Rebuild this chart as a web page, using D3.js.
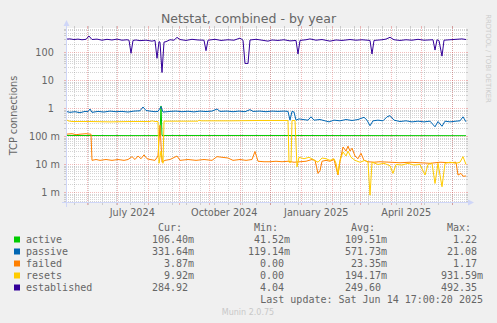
<!DOCTYPE html>
<html>
<head>
<meta charset="utf-8">
<script src="https://cdn.jsdelivr.net/npm/d3@7"></script>
<style>
  html, body { margin: 0; padding: 0; background: #F0F0F0; }
  svg { display: block; }
  text { font-family: "DejaVu Sans", sans-serif; fill: #666666; }
  .mono { font-family: "DejaVu Sans Mono", monospace; white-space: pre; }
</style>
</head>
<body>
<svg id="chart" width="497" height="323"></svg>
<script>
// ---- Data: one-year netstat window (days counted from 2024-05-10 17:00 UTC) ----
const windowStart = Date.UTC(2024, 4, 10, 17, 0, 0);
const windowDays = 400;
const biweeklyAnchor = Date.UTC(2024, 4, 19);

const seriesNames  = ["active", "passive", "failed", "resets", "established"];
const seriesColors = ["#00CC00", "#0066B3", "#FF8000", "#FFCC00", "#330099"];

// [day, connections]
const active = [
  [0, 0.108], [60, 0.107], [94, 0.107], [95, 1.22], [96, 0.108],
  [200, 0.108], [300, 0.107], [400, 0.1064]
];

const passive = [
  [0,0.78],[4,0.72],[9,0.76],[14,0.70],[19,0.78],[22,0.76],[24,0.95],[26,0.72],
  [32,0.78],[38,0.74],[44,0.80],[50,0.76],[56,0.78],[62,0.74],[68,0.80],[74,0.82],
  [77,1.12],[80,0.84],[84,0.80],[89,0.76],[92,0.78],[95,1.15],[97,0.74],[104,0.78],
  [110,0.80],[116,0.76],[122,0.79],[128,0.75],[134,0.80],[140,0.77],[146,0.80],
  [151,0.95],[154,0.78],[161,0.80],[167,0.76],[173,0.80],[179,0.76],[184,0.90],
  [187,0.78],[194,0.80],[200,0.76],[206,0.80],[212,0.78],[218,0.80],[222,0.78],
  [224,0.38],[226,0.78],[228,0.74],[230,0.38],[233,0.42],[237,0.40],[242,0.38],
  [245,0.50],[248,0.38],[254,0.40],[259,0.36],[263,0.33],[268,0.38],[274,0.36],
  [280,0.40],[286,0.37],[292,0.40],[298,0.48],[301,0.38],[304,0.24],[307,0.36],
  [312,0.38],[317,0.36],[321,0.50],[324,0.55],[328,0.38],[334,0.34],[340,0.36],
  [346,0.33],[352,0.35],[358,0.33],[364,0.35],[369,0.22],[372,0.34],[376,0.23],
  [379,0.35],[384,0.33],[390,0.35],[394,0.36],[397,0.50],[400,0.33164]
];

const failed = [
  [0,0.12],[6,0.125],[10,0.115],[14,0.12],[20,0.125],[25,0.12],[26,0.014],[30,0.015],
  [34,0.014],[40,0.015],[46,0.014],[52,0.015],[58,0.014],[62,0.015],[66,0.019],
  [69,0.015],[72,0.020],[75,0.016],[78,0.022],[81,0.016],[84,0.015],[89,0.014],
  [92,0.020],[94,0.25],[96,0.012],[99,0.014],[104,0.015],[111,0.020],[114,0.014],
  [122,0.015],[130,0.014],[138,0.015],[146,0.014],[151,0.019],[156,0.018],[162,0.017],
  [167,0.014],[174,0.015],[180,0.014],[186,0.015],[189,0.029],[192,0.013],[198,0.0125],
  [204,0.0125],[210,0.013],[216,0.0125],[222,0.013],[228,0.012],[234,0.0125],[240,0.013],
  [246,0.015],[249,0.014],[252,0.0048],[254,0.006],[256,0.013],[260,0.014],[264,0.013],
  [268,0.015],[272,0.0042],[274,0.013],[277,0.042],[280,0.030],[282,0.045],[284,0.030],
  [286,0.038],[289,0.020],[292,0.016],[295,0.025],[298,0.014],[302,0.0125],[308,0.012],
  [314,0.0125],[324,0.012],[334,0.0115],[344,0.012],[354,0.0115],[364,0.011],[374,0.012],
  [384,0.0115],[390,0.012],[392,0.0042],[395,0.0048],[397,0.0038],[400,0.00387]
];

const resets = [
  [0,0.42],[2,0.36],[6,0.34],[24,0.34],[44,0.33],[64,0.34],[84,0.34],[86,0.36],
  [89,0.34],[92,0.34],[93,0.011],[95,0.03],[97,0.011],[98,0.35],[114,0.35],[132,0.35],
  [133,0.38],[135,0.36],[164,0.36],[194,0.37],[222,0.37],[223,0.012],[225,0.012],
  [226,0.37],[229,0.37],[231,0.0082],[233,0.018],[238,0.016],[243,0.018],[247,0.015],
  [252,0.012],[256,0.017],[260,0.016],[264,0.014],[268,0.016],[270,0.011],[272,0.0045],
  [274,0.014],[277,0.028],[280,0.020],[282,0.030],[285,0.018],[289,0.014],[294,0.012],
  [299,0.014],[302,0.012],[304,0.0008],[306,0.012],[312,0.010],[318,0.011],[324,0.009],
  [327,0.0048],[330,0.010],[336,0.0095],[342,0.011],[348,0.0095],[354,0.010],[359,0.0042],
  [362,0.010],[366,0.011],[369,0.0021],[372,0.011],[376,0.0016],[379,0.011],[384,0.012],
  [390,0.011],[394,0.012],[397,0.019],[400,0.00992]
];

const established = [
  [0,295],[4,300],[8,285],[12,295],[16,280],[20,290],[23,380],[26,285],[31,295],
  [36,270],[41,290],[46,275],[51,295],[56,270],[61,280],[63,270],[65,92],[67,265],
  [70,275],[74,260],[80,270],[86,250],[89,265],[91,61],[93,240],[94,230],[96,19],
  [98,230],[100,240],[104,280],[108,270],[111,340],[114,285],[120,265],[126,290],
  [132,275],[138,270],[140,114],[142,270],[149,290],[155,265],[162,280],[168,270],
  [174,320],[177,270],[179,40],[182,40],[184,275],[190,290],[196,270],[202,250],
  [206,275],[212,265],[218,280],[224,255],[230,265],[232,87],[234,265],[240,280],
  [244,300],[250,270],[256,285],[264,250],[270,275],[276,265],[284,285],[290,270],
  [296,280],[304,265],[306,87],[308,265],[316,280],[320,295],[324,343],[328,280],
  [334,265],[340,280],[346,270],[352,290],[358,270],[367,280],[369,120],[371,280],
  [373,260],[376,73],[378,270],[384,280],[390,290],[396,300],[400,284.92]
];

const seriesData = [active, passive, failed, resets, established];

// Legend statistics
const legendHeaders = [" Cur:", " Min:", " Avg:", " Max:"];
const curValues = ["106.40m", "331.64m", "  3.87m", "  9.92m", "284.92 "];
const minValues = [" 41.52m", "119.14m", "  0.00 ", "  0.00 ", "  4.04 "];
const avgValues = ["109.51m", "571.73m", " 23.35m", "194.17m", "249.60 "];
const maxValues = ["  1.22 ", " 21.08 ", "  1.17 ", "931.59m", "492.35 "];

// Y axis ticks (log scale)
const yTickValues = [0.001, 0.01, 0.1, 1, 10, 100];
const yTickLabels = ["1 m", "10 m", "100 m", "1  ", "10  ", "100  "];

const titleText = "Netstat, combined - by year";
const yAxisTitle = "TCP connections";
const lastUpdate = "Last update: Sat Jun 14 17:00:20 2025";
const footer = "Munin 2.0.75";
const watermark = "RRDTOOL / TOBI OETIKER";

// ---- Drawing ----
const DAY = 86400000;
const svg = d3.select("#chart");
const L = 66, R = 466, T = 28, B = 203;

const x = d3.scaleUtc()
  .domain([new Date(windowStart), new Date(windowStart + windowDays * DAY)])
  .range([L, R]);
const y = d3.scaleLog().domain([4.22e-4, 735]).range([B, T]);
const dateOf = d => new Date(windowStart + d * DAY);
const px = v => Math.round(v) + 0.5;

svg.append("rect").attr("width", 497).attr("height", 323).attr("fill", "#F0F0F0");
svg.append("rect").attr("x", L).attr("y", T).attr("width", R - L).attr("height", B - T)
  .attr("fill", "#FFFFFF");

const grid = svg.append("g").attr("shape-rendering", "crispEdges");
const minorColor = "rgba(143,143,143,0.38)";
const majorColor = "rgba(222,79,79,0.38)";

// Horizontal minor grid: 2..9 within each decade
const [yMin, yMax] = y.domain();
const minorY = [];
for (let e = -4; e <= 2; e++) {
  for (let k = 2; k <= 9; k++) {
    const v = k * Math.pow(10, e);
    if (v > yMin && v < yMax) minorY.push(v);
  }
}
function hLine(v, color) {
  const yy = px(y(v));
  grid.append("line").attr("x1", L).attr("x2", R).attr("y1", yy).attr("y2", yy)
    .attr("stroke", color).attr("stroke-dasharray", "1,1");
  grid.append("line").attr("x1", L - 2).attr("x2", L).attr("y1", yy).attr("y2", yy)
    .attr("stroke", color);
  grid.append("line").attr("x1", R).attr("x2", R + 2).attr("y1", yy).attr("y2", yy)
    .attr("stroke", color);
}
function vLine(t, color) {
  const xx = px(x(t));
  grid.append("line").attr("x1", xx).attr("x2", xx).attr("y1", T).attr("y2", B)
    .attr("stroke", color).attr("stroke-dasharray", "1,1");
  grid.append("line").attr("x1", xx).attr("x2", xx).attr("y1", B).attr("y2", B + 2)
    .attr("stroke", color);
  grid.append("line").attr("x1", xx).attr("x2", xx).attr("y1", T - 2).attr("y2", T)
    .attr("stroke", color);
}
minorY.forEach(v => hLine(v, minorColor));
const [t0, t1] = x.domain();
d3.utcDay.range(new Date(biweeklyAnchor), t1, 14).forEach(t => vLine(t, minorColor));
yTickValues.forEach(v => hLine(v, majorColor));
d3.utcMonth.range(t0, t1).forEach(t => vLine(t, majorColor));

// Series lines
svg.append("clipPath").attr("id", "clip").append("rect")
  .attr("x", L).attr("y", T).attr("width", R - L + 1).attr("height", B - T);
const line = d3.line().x(d => x(dateOf(d[0]))).y(d => y(d[1]));
const lines = svg.append("g").attr("clip-path", "url(#clip)");
seriesData.forEach((s, i) => {
  lines.append("path").attr("d", line(s)).attr("fill", "none")
    .attr("stroke", seriesColors[i]).attr("stroke-width", 1)
    .attr("stroke-linejoin", "round");
});

// Axes with arrows
const axisColor = "#CFD6F8";
svg.append("line").attr("x1", L - 4).attr("x2", R + 4).attr("y1", 202.5).attr("y2", 202.5)
  .attr("stroke", axisColor);
svg.append("line").attr("x1", 66.5).attr("x2", 66.5).attr("y1", B + 4).attr("y2", T - 4)
  .attr("stroke", axisColor);
svg.append("path").attr("d", "M468,199.5L474,202.5L468,205.5Z").attr("fill", axisColor);
svg.append("path").attr("d", "M63.5,26L66.5,20L69.5,26Z").attr("fill", axisColor);

// Y tick labels
svg.append("g").selectAll("text").data(yTickValues).join("text")
  .attr("x", 60).attr("y", v => y(v) + 3.5)
  .attr("text-anchor", "end").attr("xml:space", "preserve")
  .style("white-space", "pre").style("font-size", "9.7px")
  .text((v, i) => yTickLabels[i]);

// X labels: quarterly, centred on the middle of the month
svg.append("g").selectAll("text").data(d3.utcMonth.every(3).range(t0, t1)).join("text")
  .attr("x", t => x(d3.utcDay.offset(t, 15))).attr("y", 215.5)
  .attr("text-anchor", "middle").style("font-size", "9.7px")
  .text(d3.utcFormat("%B %Y"));

// Title and axis title
svg.append("text").attr("x", 248.5).attr("y", 22.5).attr("text-anchor", "middle")
  .style("font-size", "12.5px").text(titleText);
svg.append("text").attr("transform", "translate(17,115.5) rotate(-90)")
  .attr("text-anchor", "middle").style("font-size", "9.7px").text(yAxisTitle);

// Watermark
svg.append("text").attr("transform", "translate(485.5,58.5) rotate(90)")
  .attr("text-anchor", "middle").style("font-size", "6.9px").style("fill", "#cccccc")
  .text(watermark);

// Legend
const legend = svg.append("g");
const colX = [152, 248, 345, 441];
legendHeaders.forEach((h, j) => {
  legend.append("text").attr("class", "mono").attr("xml:space", "preserve")
    .attr("x", colX[j]).attr("y", 231).style("font-size", "10px").text(h);
});
const columns = [curValues, minValues, avgValues, maxValues];
seriesNames.forEach((name, i) => {
  const by = 243 + i * 12;
  legend.append("rect").attr("x", 14).attr("y", by - 6.5).attr("width", 6).attr("height", 6)
    .attr("fill", seriesColors[i]);
  legend.append("text").attr("class", "mono").attr("x", 26).attr("y", by)
    .style("font-size", "10px").text(name);
  columns.forEach((col, j) => {
    legend.append("text").attr("class", "mono").attr("xml:space", "preserve")
      .attr("x", colX[j]).attr("y", by).style("font-size", "10px").text(col[i]);
  });
});
legend.append("text").attr("class", "mono").attr("x", 483).attr("y", 303)
  .attr("text-anchor", "end").style("font-size", "10px").text(lastUpdate);
svg.append("text").attr("x", 248).attr("y", 314.5).attr("text-anchor", "middle")
  .style("font-size", "8px").style("fill", "#c8c8c8").text(footer);
</script>
</body>
</html>
